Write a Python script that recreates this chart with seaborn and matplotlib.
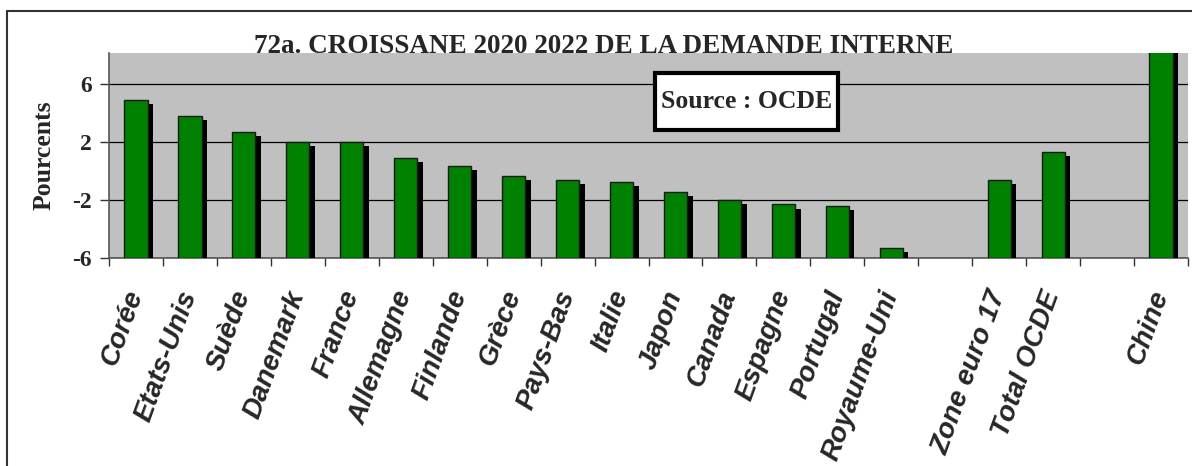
import numpy as np
import pandas as pd
import matplotlib
matplotlib.use("Agg")
import matplotlib.pyplot as plt
import matplotlib.patheffects as pe
from matplotlib.lines import Line2D
from matplotlib.patches import Rectangle
import seaborn as sns

sns.set_theme(style="white")

# ── data (%) ─────────────────────────────────────────────
countries = ["Corée", "Etats-Unis", "Suède", "Danemark", "France", "Allemagne",
             "Finlande", "Grèce", "Pays-Bas", "Italie", "Japon", "Canada",
             "Espagne", "Portugal", "Royaume-Uni", "Zone euro 17", "Total OCDE",
             "Chine"]
growth = [4.9, 3.8, 2.7, 2.0, 2.0, 0.9, 0.35, -0.35, -0.6, -0.75, -1.45, -2.0,
          -2.3, -2.4, -5.3, -0.6, 1.3, 9.5]
# empty slots between groups
slots = countries[:15] + [" "] + countries[15:17] + ["  "] + countries[17:]
yticks = [-6, -2, 2, 6]

BASE = -6          # the bars start from the bottom of the axis
YMAX = 8.14

GREEN = "#008000"
GREY = "#C0C0C0"
SERIF = "Liberation Serif"
SANS = "Liberation Sans"

df = pd.DataFrame({"pays": countries, "croissance": growth})
df["hauteur"] = df["croissance"] - BASE

fig = plt.figure(figsize=(11.92, 4.66), dpi=100)
ax = fig.add_axes([109 / 1192, 1 - 258 / 466, 1079 / 1192, 205 / 466])
ax.set_facecolor(GREY)

sns.barplot(data=df, x="pays", y="hauteur", order=slots, bottom=BASE,
            color=GREEN, saturation=1, width=0.43, errorbar=None,
            edgecolor="#1a1a1a", linewidth=1, ax=ax, zorder=3)

for bar in ax.patches:
    bar.set_path_effects([pe.SimplePatchShadow(offset=(4, -3),
                                               shadow_rgbFace="black", alpha=1),
                          pe.Normal()])

ax.set_ylim(BASE, YMAX)
ax.set_xlim(-0.5, len(slots) - 0.5)

# grid & spines
ax.set_yticks(yticks)
ax.yaxis.grid(True, color="black", lw=0.9)
ax.set_axisbelow(True)
for s in ["top", "right"]:
    ax.spines[s].set_visible(False)
for s in ["left", "bottom"]:
    ax.spines[s].set_color("#555555")
    ax.spines[s].set_linewidth(1.2)

ax.set_yticklabels([str(t) for t in yticks], fontfamily=SERIF,
                   fontweight="bold", fontsize=17)
ax.tick_params(axis="y", direction="out", length=6.5, width=1, color="#333333",
               left=True, pad=6)
ax.set_ylabel("Pourcents", fontfamily=SERIF, fontweight="bold", fontsize=18.5,
              labelpad=12)

# x: ticks on slot boundaries, labels on slot centres
ax.set_xticks(np.arange(-0.5, len(slots), 1))
ax.set_xticklabels([])
ax.tick_params(axis="x", which="major", direction="out", length=6, width=1,
               color="#333333", bottom=True)
ax.set_xticks(np.arange(len(slots)), minor=True)
ax.set_xticklabels([s.strip() for s in slots], minor=True, rotation=70,
                   ha="right", va="center", rotation_mode="anchor",
                   fontfamily=SANS, fontweight="bold", fontstyle="italic",
                   fontsize=20)
ax.tick_params(axis="x", which="minor", length=0, pad=24)
ax.set_xlabel("")

# title and source box
fig.text(604 / 1192, 1 - 53 / 466, "72a. CROISSANE 2020 2022 DE LA DEMANDE INTERNE",
         ha="center", va="baseline", fontfamily=SERIF, fontweight="bold",
         fontsize=19.5)
ax.add_patch(Rectangle((0.506, 0.624), 0.1696, 0.278, transform=ax.transAxes,
                       fc="white", ec="black", lw=3, zorder=5))
ax.text(0.591, 0.763, "Source : OCDE", transform=ax.transAxes, ha="center",
        va="center", fontfamily=SERIF, fontweight="bold", fontsize=18.5,
        zorder=6)

# outer frame (top and left edges visible)
fig.add_artist(Line2D([7 / 1192, 1], [1 - 11 / 466] * 2,
                      transform=fig.transFigure, color="#333333", lw=1.5))
fig.add_artist(Line2D([7 / 1192] * 2, [0, 1 - 11 / 466],
                      transform=fig.transFigure, color="#333333", lw=1.5))

fig.savefig("out.png", dpi=100)
